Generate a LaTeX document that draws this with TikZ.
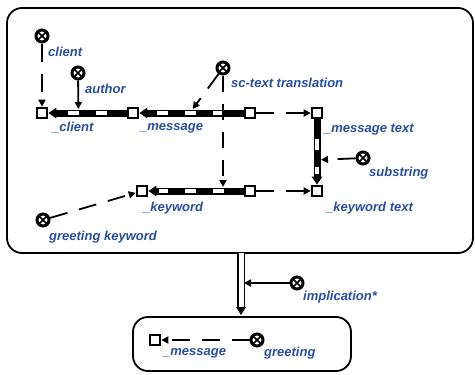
\documentclass[tikz,border=0pt]{standalone}
\usepackage{fontspec}
\setmainfont{Liberation Sans}
\usetikzlibrary{arrows.meta,calc}

\definecolor{lblblue}{RGB}{40,78,160}

\tikzset{
  sqnode/.style={rectangle, draw, fill=white, line width=2.6pt, minimum size=10pt, inner sep=0pt},
  relnode/.style={circle, draw, fill=white, line width=3pt, minimum size=12pt, inner sep=0pt,
    path picture={\draw[line width=1.5pt]
      (path picture bounding box.south west) -- (path picture bounding box.north east)
      (path picture bounding box.north west) -- (path picture bounding box.south east);}},
  lbl/.style={text=lblblue, font=\fontsize{13}{15}\selectfont\bfseries\itshape, inner sep=0pt, anchor=west},
  framebox/.style={draw, line width=1.8pt, rounded corners=15pt},
  arcbar/.style={line width=7pt, -{Triangle[length=8pt,width=10pt]}},
  arcgap/.style={white, line width=3.2pt, shorten >=11pt, shorten <=3pt,
    dash pattern=on 11pt off 17pt, dash phase=11pt},
  memb/.style={line width=1.8pt, -{Triangle[length=7pt,width=7pt]}},
  dmemb/.style={memb, dash pattern=on 18pt off 12pt},
}

% thick pair connector: black bar with white gaps and a tip
\newcommand\pairarc[2]{%
  \draw[arcbar] (#1) -- (#2);
  \draw[arcgap] (#1) -- (#2);}

\begin{document}
\begin{tikzpicture}[x=1pt, y=-1pt]
\useasboundingbox (0,0) rectangle (475,375);

% frames
\draw[framebox] (7,8) rectangle (473,253);
\draw[framebox] (133,317) rectangle (351,371);

% elements
\node[relnode] (clientC) at (42,36) {};
\node[sqnode]  (clientSq) at (42,113) {};
\node[relnode] (authorC) at (78,73) {};
\node[sqnode]  (msgSq) at (133,113) {};
\node[relnode] (scC) at (223,68) {};
\node[sqnode]  (msgR) at (250,113) {};
\node[sqnode]  (mtext) at (317,113) {};
\node[relnode] (subC) at (363,158) {};
\node[sqnode]  (ktext) at (317,191) {};
\node[sqnode]  (kwR) at (250,191) {};
\node[sqnode]  (kwSq) at (142,191) {};
\node[relnode] (gkC) at (43,220) {};
\node[relnode] (impC) at (297,283) {};
\node[sqnode]  (bMsg) at (155,340) {};
\node[relnode] (greetC) at (257,340) {};

% labels
\node[lbl] (l1) at (48,52) {client};
\node[lbl] (l2) at (52,128) {\_client};
\node[lbl] (l3) at (85,89) {author};
\node[lbl] (l4) at (140,128) {\_message};
\node[lbl] (l5) at (231,83) {sc-text translation};
\node[lbl] (l6) at (324,130) {\_message text};
\node[lbl] (l7) at (369,173) {substring};
\node[lbl] (l8) at (143,208) {\_keyword};
\node[lbl] (l9) at (326,208) {\_keyword text};
\node[lbl] (l10) at (49,237) {greeting keyword};
\node[lbl] (l11) at (303,297) {implication*};
\node[lbl] (l12) at (163,353) {\_message};
\node[lbl] (l13) at (264,353) {greeting};

% pairs
\pairarc{msgSq}{clientSq}
\pairarc{msgR}{msgSq}
\pairarc{kwR}{kwSq}
\pairarc{mtext}{ktext}

\draw[dmemb] (msgR) -- (mtext);
\draw[dmemb] (kwR) -- (ktext);

% points on the pairs
\coordinate (onCl) at ($(clientSq)!0.4!(msgSq)+(0,-4)$);
\coordinate (onMsg) at ($(msgSq)!0.51!(msgR)+(0,-4)$);
\coordinate (onKw) at (scC |- 0,187);
\coordinate (onTxt) at ($(mtext)!0.6!(ktext)+(4,0)$);
\coordinate (impTop) at (241,253);
\coordinate (impBot) at (241,317);
\coordinate (onImp) at (244,283);

% memberships
\draw[dmemb] (clientC) -- (clientSq);
\draw[memb] (authorC) -- (onCl);
\draw[dmemb] (scC) -- (onMsg);
\draw[memb, dash pattern=on 16pt off 12pt] (scC) -- (onKw);
\draw[dmemb] (subC) -- (onTxt);
\draw[dmemb] (gkC) -- (kwSq);
\draw[dmemb] (greetC) -- (bMsg);

% implication connector
\draw[line width=1.2pt, double=white, double distance=5pt, shorten >=9pt] (impTop) -- (impBot);
\fill ($(impBot)+(-5,-10)$) -- ($(impBot)+(5,-10)$) -- ($(impBot)+(0,-2)$) -- cycle;
\draw[memb] (impC) -- (onImp);

\end{tikzpicture}
\end{document}
